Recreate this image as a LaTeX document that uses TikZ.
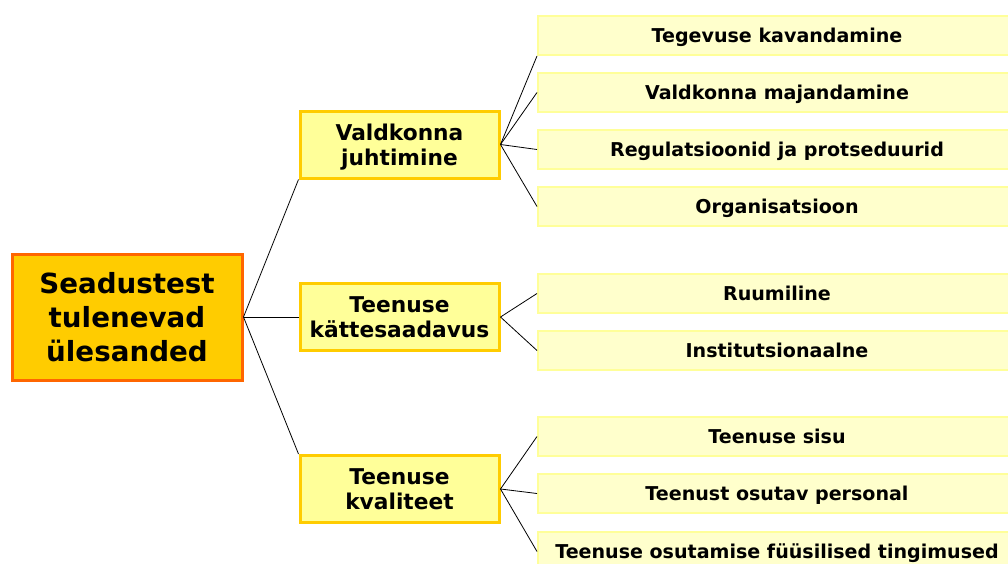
\documentclass[tikz,border=0pt]{standalone}
\usepackage{fontspec}
\setmainfont{DejaVu Sans}

\definecolor{rootfill}{HTML}{FFCC00}
\definecolor{rootline}{HTML}{FF6600}
\definecolor{midfill}{HTML}{FFFF99}
\definecolor{midline}{HTML}{FFCC00}
\definecolor{leaffill}{HTML}{FFFFCC}
\definecolor{leafline}{HTML}{FFFF99}

\tikzset{
    rootbox/.style={draw=rootline, fill=rootfill, line width=2.25pt, align=center,
        minimum width=172.5pt, minimum height=94.5pt, inner sep=0pt,
        font=\bfseries\fontsize{20.8}{25.5}\selectfont},
    midbox/.style={draw=midline, fill=midfill, line width=2.25pt, align=center,
        minimum width=149.25pt, minimum height=50.25pt, inner sep=0pt, text depth=0pt,
        font=\bfseries\fontsize{16.3}{18.8}\selectfont},
    leafbox/.style={draw=leafline, fill=leaffill, line width=1.5pt,
        minimum width=358.5pt, minimum height=29.25pt, inner sep=0pt,
        text height=10.6pt, text depth=0pt,
        font=\bfseries\fontsize{14.3}{16}\selectfont},
    link/.style={draw=black, line width=0.6pt}
}

\begin{document}
\begin{tikzpicture}[x=0.75pt, y=-0.75pt]
    \useasboundingbox (0,0) rectangle (1008,564);

    \node[rootbox] (root) at (127,317) {Seadustest\\tulenevad\\ülesanded};

    \node[midbox] (juhtimine) at (399.5,144.5) {Valdkonna\\juhtimine};
    \node[midbox] (kattesaadavus) at (399.5,317) {Teenuse\\kättesaadavus};
    \node[midbox] (kvaliteet) at (399.5,489) {Teenuse\\kvaliteet};

    \node[leafbox] (kavandamine) at (777,35.5) {Tegevuse kavandamine};
    \node[leafbox] (majandamine) at (777,92.5) {Valdkonna majandamine};
    \node[leafbox] (regulatsioonid) at (777,149.5) {Regulatsioonid ja protseduurid};
    \node[leafbox] (organisatsioon) at (777,206.5) {Organisatsioon};

    \node[leafbox] (ruumiline) at (777,293.5) {Ruumiline};
    \node[leafbox] (institutsionaalne) at (777,350.5) {Institutsionaalne};

    \node[leafbox] (sisu) at (777,436.5) {Teenuse sisu};
    \node[leafbox] (personal) at (777,493.5) {Teenust osutav personal};
    \node[leafbox] (tingimused) at (777,551.5) {Teenuse osutamise füüsilised tingimused};

    \draw[link] (root.east) -- (juhtimine.south west);
    \draw[link] (root.east) -- (kattesaadavus.west);
    \draw[link] (root.east) -- (kvaliteet.north west);

    \draw[link] (juhtimine.east) -- (kavandamine.south west);
    \draw[link] (juhtimine.east) -- (majandamine.west);
    \draw[link] (juhtimine.east) -- (regulatsioonid.west);
    \draw[link] (juhtimine.east) -- (organisatsioon.west);

    \draw[link] (kattesaadavus.east) -- (ruumiline.west);
    \draw[link] (kattesaadavus.east) -- (institutsionaalne.west);

    \draw[link] (kvaliteet.east) -- (sisu.west);
    \draw[link] (kvaliteet.east) -- (personal.west);
    \draw[link] (kvaliteet.east) -- (tingimused.west);
\end{tikzpicture}
\end{document}
